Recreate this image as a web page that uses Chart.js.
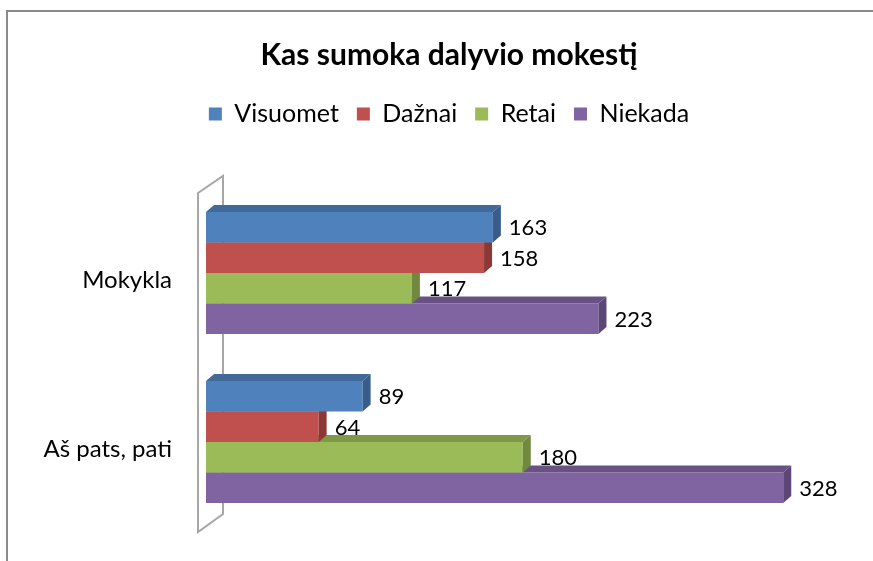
<!DOCTYPE html>
<html><head><meta charset="utf-8">
<script src="https://cdn.jsdelivr.net/npm/chart.js@4"></script>
<style>html,body{margin:0;padding:0;background:#fff}#wrap{width:873px;height:561px;position:relative}</style>
</head><body><div id="wrap"><canvas id="c" width="873" height="561"></canvas></div>
<script>
const categories = ['Mokykla', 'Aš pats, pati'];
const seriesNames = ['Visuomet', 'Dažnai', 'Retai', 'Niekada'];
const visuomet = [163, 89];
const daznai = [158, 64];
const retai = [117, 180];
const niekada = [223, 328];
const chartTitle = 'Kas sumoka dalyvio mokestį';

const frontColors = ['#4F81BD', '#C0504D', '#9BBB59', '#8064A2'];
const topColors = ['#41699A', '#9C403E', '#7E9A48', '#685285'];
const sideColors = ['#385D8A', '#8C3836', '#71893F', '#5C4776'];
const DEPTH = 8;
const FONT = 'Lato';

Chart.defaults.font.family = FONT;
Chart.defaults.color = '#000';

const threeD = {
  id: 'threeD',
  beforeDraw(chart) {
    const ctx = chart.ctx;
    ctx.save();
    ctx.strokeStyle = '#8a8a8a';
    ctx.lineWidth = 2;
    ctx.beginPath();
    ctx.moveTo(7, chart.height);
    ctx.lineTo(7, 11);
    ctx.lineTo(chart.width, 11);
    ctx.stroke();
    ctx.restore();
  },
  beforeDatasetsDraw(chart) {
    const ca = chart.chartArea, ctx = chart.ctx;
    ctx.save();
    ctx.strokeStyle = '#a6a6a6';
    ctx.lineWidth = 2;
    ctx.beginPath();
    ctx.moveTo(ca.left - 8, ca.top + 4.5);
    ctx.lineTo(ca.left + 17, ca.top - 12.5);
    ctx.lineTo(ca.left + 17, ca.bottom - 12.5);
    ctx.lineTo(ca.left - 8, ca.bottom + 5.5);
    ctx.closePath();
    ctx.stroke();
    ctx.restore();
  },
  afterDatasetDraw(chart, args) {
    const ctx = chart.ctx;
    const i = args.index;
    ctx.save();
    args.meta.data.forEach(el => {
      const p = el.getProps(['x', 'y', 'base', 'height'], true);
      const t = p.y - p.height / 2, b = p.y + p.height / 2;
      ctx.fillStyle = topColors[i];
      ctx.beginPath();
      ctx.moveTo(p.base, t);
      ctx.lineTo(p.base + DEPTH, t - DEPTH + 1);
      ctx.lineTo(p.x + DEPTH, t - DEPTH + 1);
      ctx.lineTo(p.x, t);
      ctx.closePath();
      ctx.fill();
      ctx.fillStyle = sideColors[i];
      ctx.beginPath();
      ctx.moveTo(p.x, t);
      ctx.lineTo(p.x + DEPTH, t - DEPTH + 1);
      ctx.lineTo(p.x + DEPTH, b - DEPTH + 1);
      ctx.lineTo(p.x, b);
      ctx.closePath();
      ctx.fill();
    });
    ctx.restore();
  },
  afterDatasetsDraw(chart) {
    const ctx = chart.ctx;
    ctx.save();
    ctx.font = '22px ' + FONT;
    ctx.fillStyle = '#000';
    ctx.textAlign = 'left';
    ctx.textBaseline = 'middle';
    chart.data.datasets.forEach((ds, i) => {
      chart.getDatasetMeta(i).data.forEach((el, j) => {
        ctx.fillText(String(ds.data[j]), el.x + DEPTH + 8, el.y + 1);
      });
    });
    ctx.restore();
  }
};

const seriesValues = [visuomet, daznai, retai, niekada];

new Chart(document.getElementById('c'), {
  type: 'bar',
  data: {
    labels: categories,
    datasets: seriesNames.map((name, i) => ({
      label: name,
      data: seriesValues[i],
      backgroundColor: frontColors[i],
      borderWidth: 0,
      categoryPercentage: 0.722,
      barPercentage: 1.0
    }))
  },
  options: {
    indexAxis: 'y',
    responsive: false,
    animation: false,
    layout: { padding: { left: 25, right: 0, top: 0, bottom: 34.5 } },
    plugins: {
      title: {
        display: true,
        text: chartTitle,
        font: { size: 30, weight: 'bold', family: FONT },
        color: '#000',
        padding: { top: 37, bottom: 10.5 }
      },
      legend: {
        position: 'top',
        labels: {
          boxWidth: 13, boxHeight: 13,
          font: { size: 25, family: FONT },
          color: '#000',
          padding: 18
        }
      },
      tooltip: { enabled: false }
    },
    scales: {
      x: {
        position: 'top',
        min: 0, max: 379,
        ticks: { display: false },
        grid: { display: false, drawTicks: false },
        border: { display: false },
        afterFit(s) { s.height = 52; }
      },
      y: {
        ticks: { font: { size: 24, family: FONT }, color: '#000', padding: 34, labelOffset: 7 },
        grid: { display: false, drawTicks: false },
        border: { display: false },
        afterFit(s) { s.width = 181; s.paddingTop = 0; s.paddingBottom = 0; }
      }
    }
  },
  plugins: [threeD]
});
</script>
</body></html>
